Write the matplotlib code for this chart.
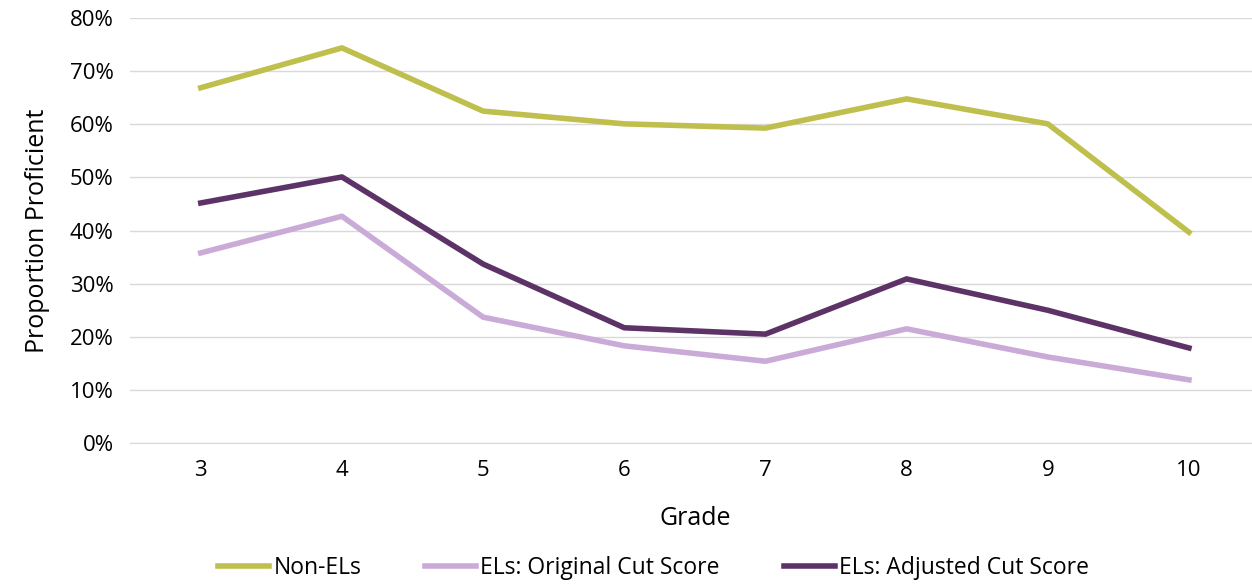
import matplotlib
matplotlib.use("Agg")
import matplotlib.pyplot as plt
from matplotlib.ticker import PercentFormatter

plt.rcParams['font.family'] = ['Open Sans', 'DejaVu Sans']

grades = ['3', '4', '5', '6', '7', '8', '9', '10']
non_els = [66.9, 74.4, 62.5, 60.1, 59.3, 64.8, 60.1, 39.7]
els_orig = [35.8, 42.7, 23.7, 18.3, 15.4, 21.5, 16.2, 11.9]
els_adj = [45.2, 50.1, 33.7, 21.7, 20.5, 30.9, 25.0, 17.9]

fig = plt.figure(figsize=(12.52, 5.86), dpi=100)
ax = fig.add_axes([0.104, 0.244, 0.902, 0.725])
x = range(len(grades))
ax.plot(x, non_els, color='#BFBF4D', lw=4, label='Non-ELs')
ax.plot(x, els_orig, color='#CAABD8', lw=4, label='ELs: Original Cut Score')
ax.plot(x, els_adj, color='#5C3267', lw=4, label='ELs: Adjusted Cut Score')
ax.set_xlim(-0.5, len(grades) - 0.5)
ax.set_ylim(0, 80)
ax.set_yticks(range(0, 81, 10))
ax.yaxis.set_major_formatter(PercentFormatter(decimals=0))
ax.set_xticks(list(x))
ax.set_xticklabels(grades)
ax.grid(axis='y', color='#D9D9D9', lw=1)
ax.set_axisbelow(True)
for s in ['top', 'right', 'left']:
    ax.spines[s].set_visible(False)
ax.spines['bottom'].set_color('#D9D9D9')
ax.tick_params(length=0, labelsize=16, colors='#000000', pad=12)
ax.set_xlabel('Grade', fontsize=18, labelpad=18)
ax.set_ylabel('Proportion Proficient', fontsize=18, labelpad=14)
fig.legend(loc='lower left', ncol=3, fontsize=16.5, frameon=False,
           bbox_to_anchor=(0.158, -0.025), handlelength=2.2, columnspacing=2.8, handletextpad=0.2)
fig.savefig('out.png', dpi=100)
